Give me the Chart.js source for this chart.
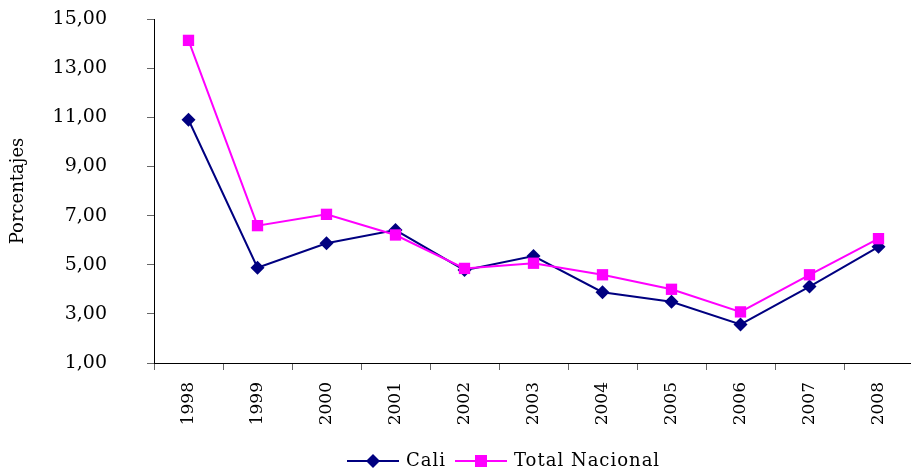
<!DOCTYPE html>
<html>
<head>
<meta charset="utf-8">
<script src="https://cdn.jsdelivr.net/npm/chart.js@4.4.1/dist/chart.umd.min.js"></script>
<style>
  html, body { margin: 0; padding: 0; background: #fff; overflow: hidden; }
</style>
</head>
<body>
<canvas id="tasaChart" width="921" height="475"></canvas>
<script>
// Tasas anuales - Cali vs Total Nacional
const years = ['1998', '1999', '2000', '2001', '2002', '2003', '2004', '2005', '2006', '2007', '2008'];
const caliValues = [10.90, 4.88, 5.87, 6.41, 4.78, 5.35, 3.88, 3.49, 2.57, 4.11, 5.73];
const nacionalValues = [14.13, 6.59, 7.05, 6.21, 4.85, 5.06, 4.59, 4.00, 3.08, 4.59, 6.06];
const yTicks = [1, 3, 5, 7, 9, 11, 13, 15];

const serif = "'DejaVu Serif', 'Liberation Serif', serif";

// legend drawn as line + marker, like the original spreadsheet chart
const lineLegend = {
    id: 'lineLegend',
    afterDraw(chart) {
        const c = chart.ctx;
        const items = [
            { ds: chart.data.datasets[0], x: 347 },
            { ds: chart.data.datasets[1], x: 455 }
        ];
        const y = 461;
        c.save();
        c.font = '18px ' + serif;
        c.letterSpacing = '1px';
        c.textBaseline = 'middle';
        items.forEach(item => {
            const ds = item.ds;
            c.strokeStyle = ds.borderColor;
            c.lineWidth = 2;
            c.beginPath();
            c.moveTo(item.x, y);
            c.lineTo(item.x + 52, y);
            c.stroke();
            c.fillStyle = ds.pointBackgroundColor;
            const mx = item.x + 26;
            if (ds.pointStyle === 'rectRot') {
                c.beginPath();
                c.moveTo(mx, y - 7);
                c.lineTo(mx + 7, y);
                c.lineTo(mx, y + 7);
                c.lineTo(mx - 7, y);
                c.closePath();
                c.fill();
            } else {
                c.fillRect(mx - 6, y - 6, 12, 12);
            }
            c.fillStyle = '#000';
            c.fillText(ds.label, item.x + 59, y);
        });
        c.restore();
    }
};

new Chart(document.getElementById('tasaChart'), {
    type: 'line',
    data: {
        labels: years,
        datasets: [{
            label: 'Cali',
            data: caliValues,
            borderColor: '#000080',
            backgroundColor: '#000080',
            pointBackgroundColor: '#000080',
            pointBorderColor: '#000080',
            pointStyle: 'rectRot',
            pointRadius: 7,
            pointBorderWidth: 0,
            borderWidth: 2,
            tension: 0,
            order: 1
        }, {
            label: 'Total Nacional',
            data: nacionalValues,
            borderColor: '#FF00FF',
            backgroundColor: '#FF00FF',
            pointBackgroundColor: '#FF00FF',
            pointBorderColor: '#FF00FF',
            pointStyle: 'rect',
            pointRadius: 8,
            pointBorderWidth: 0,
            borderWidth: 2,
            tension: 0,
            order: 0
        }]
    },
    options: {
        responsive: false,
        animation: false,
        layout: { padding: { top: 19, right: 2, bottom: 30, left: 0 } },
        plugins: {
            legend: { display: false },
            tooltip: { enabled: false }
        },
        scales: {
            x: {
                offset: true,
                border: { color: '#000', width: 1 },
                grid: {
                    offset: true,
                    drawOnChartArea: false,
                    drawTicks: true,
                    tickLength: 7,
                    color: '#666'
                },
                ticks: {
                    minRotation: 90,
                    maxRotation: 90,
                    padding: 12,
                    color: '#000',
                    font: { family: serif, size: 17 }
                },
                afterFit(scale) { scale.height = 82; }
            },
            y: {
                min: 1,
                max: 15,
                afterBuildTicks(scale) {
                    scale.ticks = yTicks.map(v => ({ value: v }));
                },
                border: { color: '#000', width: 1 },
                grid: {
                    drawOnChartArea: false,
                    drawTicks: true,
                    tickLength: 7,
                    color: '#666'
                },
                ticks: {
                    padding: 40,
                    color: '#000',
                    font: { family: serif, size: 19 },
                    callback: v => v.toFixed(2).replace('.', ',')
                },
                title: {
                    display: true,
                    text: 'Porcentajes',
                    color: '#000',
                    padding: { top: 8, bottom: 0 },
                    font: { family: serif, size: 18 }
                },
                afterFit(scale) {
                    scale.width = 154;
                    // tick padding should not push the plot down
                    scale.paddingTop = 10;
                    scale.paddingBottom = 10;
                }
            }
        }
    },
    plugins: [lineLegend]
});
</script>
</body>
</html>
